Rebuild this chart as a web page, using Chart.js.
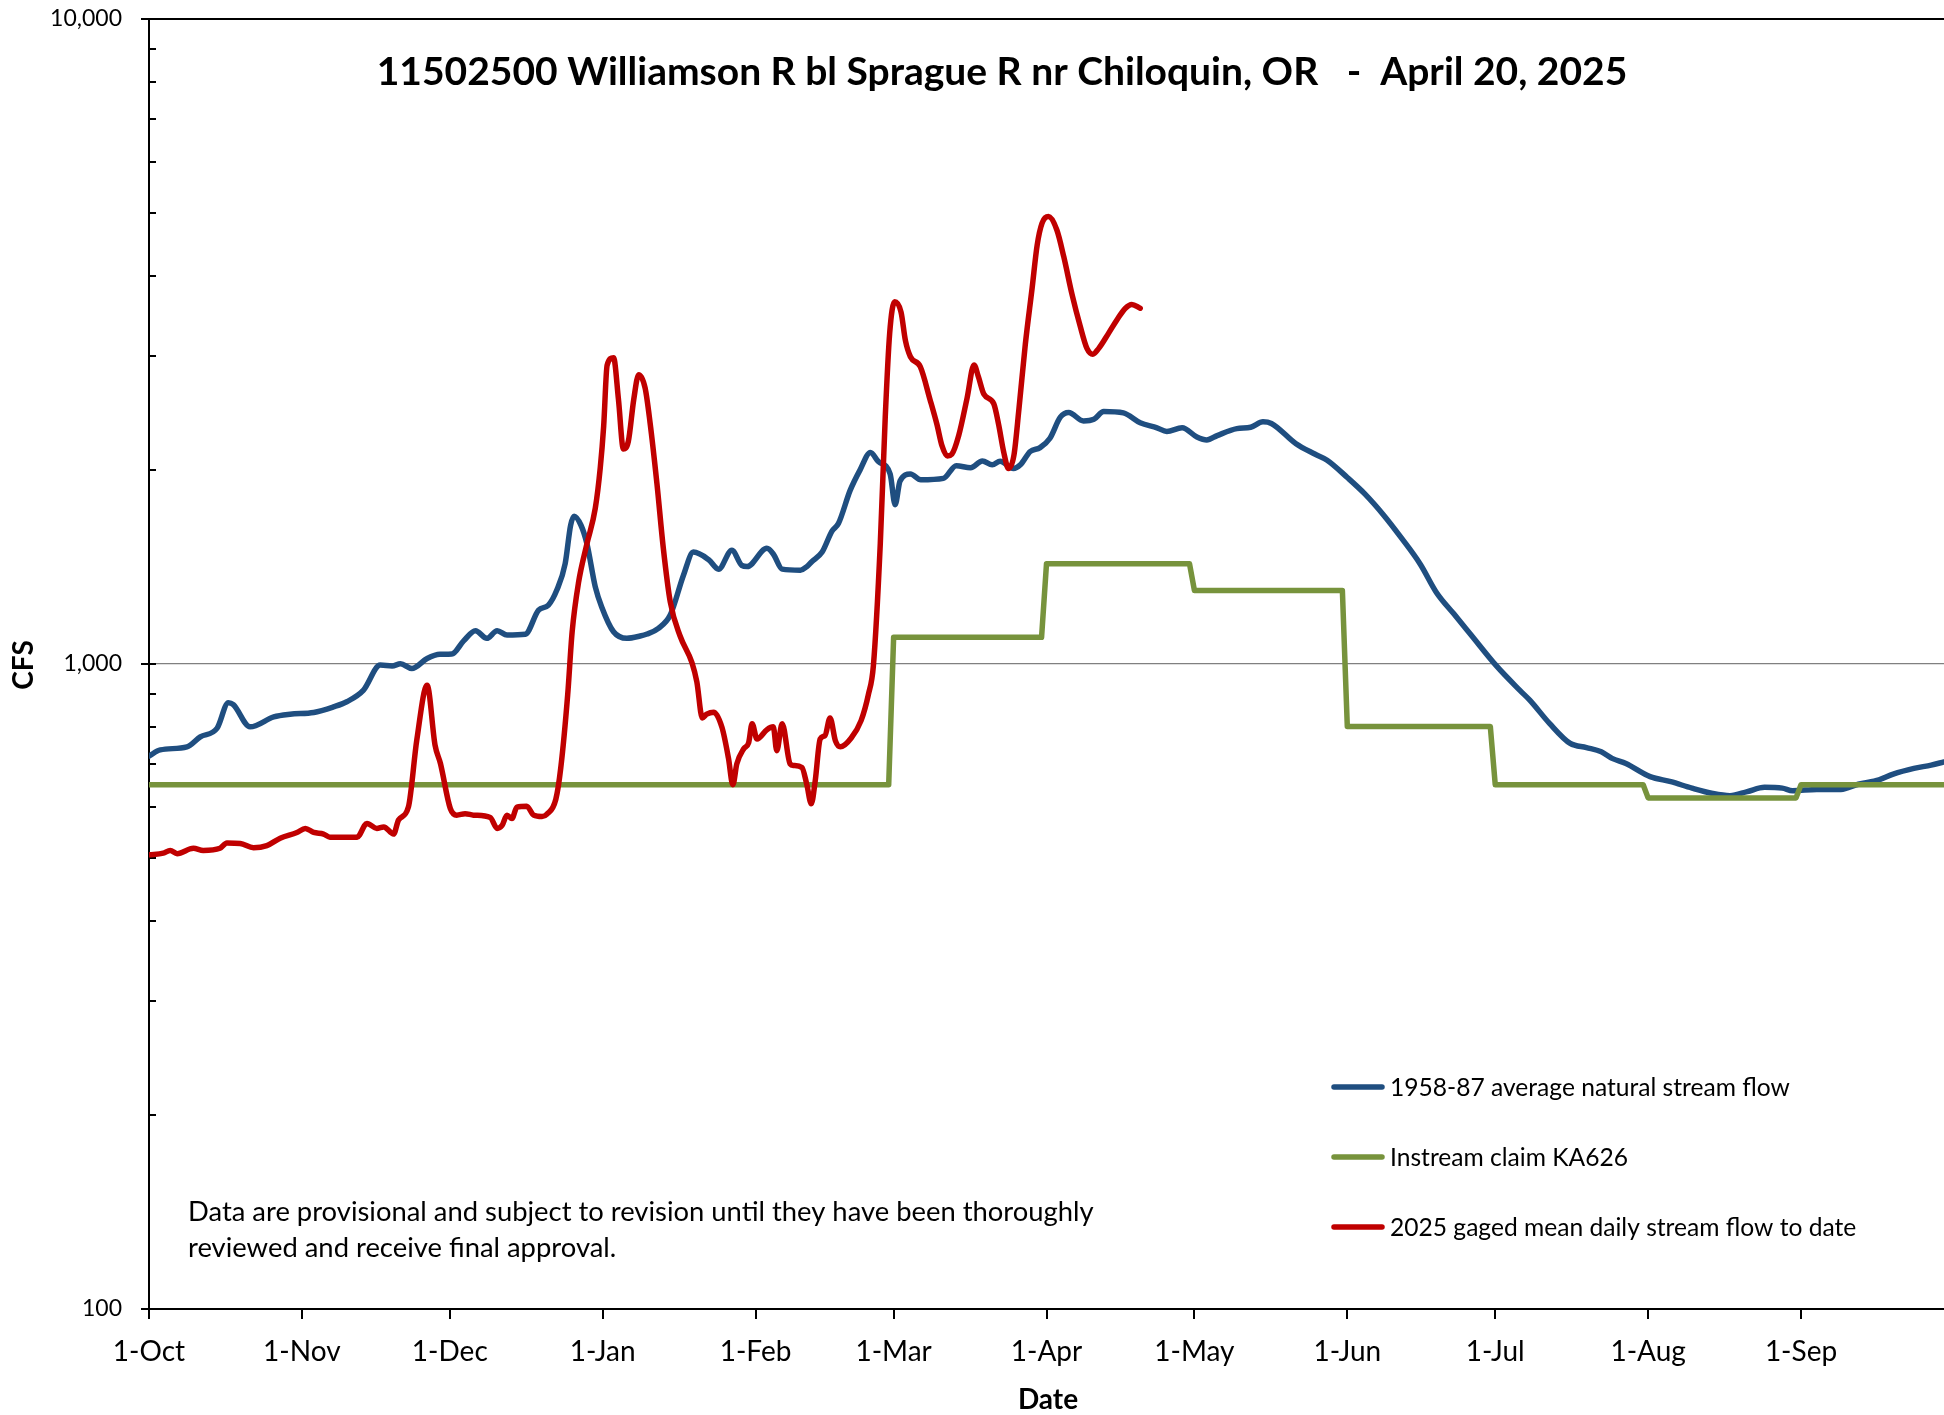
<!DOCTYPE html>
<html>
<head>
<meta charset="utf-8">
<title>11502500 Williamson R bl Sprague R nr Chiloquin, OR</title>
<script src="https://cdn.jsdelivr.net/npm/chart.js@4.4.1/dist/chart.umd.min.js"></script>
<style>
  html, body { margin: 0; padding: 0; background: #fff; }
  canvas { display: block; }
</style>
</head>
<body>
<canvas id="flowChart" width="1944" height="1415"></canvas>
<script>
// x axis is days counted from 1-Oct (day 0) to 30-Sep (day 364)
const monthStarts = [0, 31, 61, 92, 123, 151, 182, 212, 243, 273, 304, 335];
const monthLabels = ['1-Oct', '1-Nov', '1-Dec', '1-Jan', '1-Feb', '1-Mar', '1-Apr', '1-May', '1-Jun', '1-Jul', '1-Aug', '1-Sep'];

// 1958-87 average natural stream flow, cfs
const avgDays = [0, 2.3, 7.7, 10.4, 13.8, 16.1, 17.1, 20.5, 25.3, 28.6, 33.4, 37.4, 40.1, 43.5, 46.9, 49.3, 51, 53.3, 56.4, 59,
  61.4, 63.8, 66.2, 68.5, 70.6, 72.6, 76.3, 79, 81, 82.7, 84.4, 85.5, 86.2, 87.6, 88.8, 90.5, 91.8, 94.2, 96.9, 99.6,
  101, 103.3, 105.7, 108.4, 110.4, 113.5, 115.5, 118.2, 120.2, 121.3, 125.3, 126.6, 128.4, 132.1, 133.4, 134.4, 136.5, 138.5, 139.8, 142.2,
  144.2, 146.3, 147.9, 150.3, 151.3, 152.3, 154.4, 156.5, 161.1, 163.7, 166.6, 169, 171, 172.6, 175.3, 176.7, 178.7, 180.7, 182.7, 184.8,
  186.5, 189.5, 191.6, 193.6, 197.6, 201, 204.4, 206.4, 209.5, 212.5, 214.5, 216.6, 220.6, 223.4, 225.9, 227.6, 232.6, 236.4, 238.9, 243,
  246.5, 250.3, 254, 257.8, 261.1, 264.6, 267.9, 273.2, 278, 280, 284, 288.2, 291.5, 294.5, 296.7, 299.5, 304.4, 308.6, 312.9, 317.1,
  320.6, 324.1, 327.6, 331.2, 333.3, 338.2, 343.1, 346.6, 350.8, 353.7, 357.9, 361.4, 364];
const avgCfs = [720, 736, 744, 771, 795, 871, 865, 799, 828, 836, 841, 858, 874, 911, 996, 993, 1001, 984, 1020, 1035,
  1036, 1086, 1126, 1096, 1126, 1109, 1112, 1212, 1234, 1302, 1432, 1641, 1695, 1641, 1537, 1317, 1226, 1122, 1096, 1105,
  1113, 1136, 1191, 1374, 1491, 1451, 1403, 1501, 1422, 1416, 1511, 1481, 1403, 1398, 1416, 1441, 1491, 1607, 1651, 1860,
  2000, 2128, 2060, 1970, 1766, 1922, 1970, 1930, 1940, 2030, 2015, 2065, 2036, 2063, 2009, 2036, 2135, 2165, 2239, 2414,
  2454, 2381, 2395, 2464, 2451, 2366, 2324, 2293, 2324, 2249, 2225, 2260, 2317, 2328, 2374, 2360, 2195, 2116, 2070, 1946,
  1837, 1704, 1567, 1428, 1290, 1196, 1114, 994, 910, 879, 809, 753, 742, 731, 714, 701, 669, 657, 642, 630,
  625, 634, 644, 642, 636, 639, 639, 651, 661, 675, 689, 697, 705];

// instream claim KA626, one value per month Oct..Sep
const claimCfs = [650, 650, 650, 650, 650, 1100, 1430, 1300, 800, 650, 620, 650];

// 2025 gaged mean daily stream flow, through 20-Apr
const flowDays = [0, 2.9, 4.3, 5.7, 9, 11, 14.4, 15.8, 18.5, 21.2, 23.9, 26.6, 30, 31.7, 33.4, 35.4, 36.7, 42.2, 44.2, 46.2,
  47.6, 49.6, 50.6, 52.6, 54.3, 56.4, 58, 59.1, 61.1, 62.4, 64.1, 65.8, 69.2, 70.6, 71.6, 72.6, 73.6, 74.6, 76.6, 78,
  79.7, 80.7, 82.5, 83.5, 84.9, 85.8, 87.1, 88.8, 90.5, 91.5, 92.2, 92.9, 94.2, 95.2, 96.2, 97.2, 98.3, 99.3, 100.6, 101.6,
  103, 104.3, 105.7, 107.7, 110.1, 111.1, 112.2, 113.1, 114.5, 116.2, 117.5, 118.4, 119.2, 120.6, 121.6, 122.3, 123.3, 125.3, 126.6, 127.3,
  128.4, 130, 130.7, 132.4, 133.4, 134.3, 135.1, 136.1, 137.1, 138.1, 139.2, 140.2, 142.4, 144.4, 145.9, 146.9, 148.3, 149.3, 150.2, 151.2,
  152.5, 153.4, 154.4, 156.4, 158.4, 159.8, 160.8, 161.9, 162.8, 164.2, 165.9, 167.3, 168.2, 169.3, 171.3, 172.3, 173.3, 174.3, 175.4, 176.4,
  177.7, 179.1, 180.1, 181.1, 182.4, 184.1, 185.5, 187.2, 188.8, 190.2, 191.4, 192.6, 194.6, 196.3, 198, 199.3, 201];
const flowCfs = [506, 509, 514, 508, 518, 514, 518, 528, 527, 519, 523, 537, 548, 556, 548, 545, 539, 539, 566, 556,
  559, 545, 573, 600, 762, 927, 749, 701, 597, 583, 586, 583, 578, 556, 562, 583, 576, 600, 602, 583,
  580, 585, 617, 690, 895, 1120, 1337, 1535, 1744, 2012, 2337, 2906, 2985, 2571, 2154, 2214, 2571, 2809, 2679, 2370,
  1905, 1511, 1249, 1105, 1005, 938, 825, 836, 842, 797, 715, 650, 700, 739, 755, 808, 765, 791, 799, 734,
  808, 700, 696, 691, 650, 607, 659, 765, 775, 825, 760, 744, 768, 817, 898, 995, 1539, 2414, 3258, 3643,
  3512, 3170, 2995, 2890, 2567, 2349, 2180, 2102, 2115, 2261, 2585, 2909, 2786, 2620, 2533, 2349, 2135, 2009, 2108, 2481,
  3128, 3837, 4458, 4826, 4939, 4709, 4280, 3735, 3348, 3086, 3022, 3086, 3258, 3418, 3561, 3610, 3561];

const yMajor = [100, 1000, 10000];
const yMinor = [200, 300, 400, 500, 600, 700, 800, 900, 2000, 3000, 4000, 5000, 6000, 7000, 8000, 9000];

const titleText = '11502500 Williamson R bl Sprague R nr Chiloquin, OR   -  April 20, 2025';
const noteLines = ['Data are provisional and subject to revision until they have been thoroughly',
  'reviewed and receive final approval.'];

const FONT = 'Lato, "Open Sans", sans-serif';
Chart.defaults.font.family = FONT;
Chart.defaults.color = '#000';

const pts = (xs, ys) => xs.map((d, i) => ({ x: d, y: ys[i] }));

// claim holds each monthly value from first to last day of the month
const claimPts = [];
claimCfs.forEach((v, i) => {
  const end = i < 11 ? monthStarts[i + 1] - 1 : 364;
  claimPts.push({ x: monthStarts[i], y: v }, { x: end, y: v });
});

const frame = {
  id: 'frame',
  beforeDatasetsDraw(chart) {
    const { ctx, chartArea: a, scales: { x, y } } = chart;
    ctx.save();
    ctx.strokeStyle = '#000';
    ctx.lineWidth = 2;
    ctx.beginPath();
    ctx.moveTo(a.left - 8, a.top); ctx.lineTo(a.right, a.top);
    ctx.moveTo(a.left, a.top); ctx.lineTo(a.left, a.bottom + 10);
    ctx.moveTo(a.left - 8, a.bottom); ctx.lineTo(a.right, a.bottom);
    yMajor.forEach(v => {
      const py = Math.round(y.getPixelForValue(v));
      ctx.moveTo(a.left - 8, py); ctx.lineTo(a.left + 7, py);
    });
    yMinor.forEach(v => {
      const py = Math.round(y.getPixelForValue(v));
      ctx.moveTo(a.left, py); ctx.lineTo(a.left + 7, py);
    });
    monthStarts.forEach(d => {
      const px = Math.round(x.getPixelForValue(d));
      ctx.moveTo(px, a.bottom); ctx.lineTo(px, a.bottom + 10);
    });
    ctx.stroke();
    ctx.restore();
  },
  afterDraw(chart) {
    const { ctx } = chart;
    ctx.save();
    ctx.fillStyle = '#000';
    ctx.textBaseline = 'alphabetic';

    ctx.font = 'bold 39px ' + FONT;
    ctx.textAlign = 'center';
    ctx.fillText(titleText, 1002, 85);

    ctx.font = 'bold 28px ' + FONT;
    ctx.fillText('Date', 1048, 1409);
    ctx.save();
    ctx.translate(33, 665);
    ctx.rotate(-Math.PI / 2);
    ctx.fillText('CFS', 0, 0);
    ctx.restore();

    ctx.textAlign = 'left';
    ctx.font = '27.4px ' + FONT;
    noteLines.forEach((t, i) => ctx.fillText(t, 188, 1221 + i * 36));

    // legend: blue, green, red
    ctx.font = '24.6px ' + FONT;
    [0, 1, 2].forEach((di, i) => {
      const ds = chart.data.datasets[di];
      const ly = 1087 + i * 70;
      ctx.strokeStyle = ds.borderColor;
      ctx.lineWidth = 5.5;
      ctx.lineCap = 'round';
      ctx.beginPath();
      ctx.moveTo(1334, ly); ctx.lineTo(1382, ly);
      ctx.stroke();
      ctx.fillText(ds.label, 1390, ly + 9);
    });
    ctx.restore();
  }
};

new Chart(document.getElementById('flowChart'), {
  type: 'line',
  data: {
    datasets: [
      {
        label: '1958-87 average natural stream flow',
        data: pts(avgDays, avgCfs),
        borderColor: '#1f4e80',
        borderWidth: 5.5,
        cubicInterpolationMode: 'monotone',
        order: 2
      },
      {
        label: 'Instream claim KA626',
        data: claimPts,
        borderColor: '#77933c',
        borderWidth: 5.5,
        tension: 0,
        order: 1
      },
      {
        label: '2025 gaged mean daily stream flow to date',
        data: pts(flowDays, flowCfs),
        borderColor: '#c00000',
        borderWidth: 5.5,
        cubicInterpolationMode: 'monotone',
        order: 0
      }
    ]
  },
  options: {
    responsive: false,
    animation: false,
    layout: { padding: { top: 19, right: 0, bottom: 0, left: 0 } },
    elements: {
      point: { radius: 0 },
      line: { borderJoinStyle: 'round', borderCapStyle: 'round', fill: false }
    },
    plugins: {
      legend: { display: false },
      tooltip: { enabled: false },
      title: { display: false }
    },
    scales: {
      x: {
        type: 'linear',
        min: 0,
        max: 364,
        afterBuildTicks: s => { s.ticks = monthStarts.map(v => ({ value: v })); },
        afterFit: s => { s.height = 106; s.paddingLeft = 0; s.paddingRight = 0; },
        grid: { display: false, drawTicks: false },
        border: { display: false },
        ticks: {
          autoSkip: false,
          maxRotation: 0,
          padding: 26,
          font: { size: 28 },
          callback: v => monthLabels[monthStarts.indexOf(v)]
        }
      },
      y: {
        type: 'logarithmic',
        min: 100,
        max: 10000,
        afterBuildTicks: s => { s.ticks = yMajor.map(v => ({ value: v })); },
        afterFit: s => { s.width = 149; s.paddingTop = 0; s.paddingBottom = 0; },
        grid: {
          drawTicks: false,
          lineWidth: 1.3,
          color: c => (c.tick && c.tick.value === 1000 ? '#808080' : 'rgba(0,0,0,0)')
        },
        border: { display: false },
        ticks: {
          autoSkip: false,
          padding: 27,
          font: { size: 23 },
          callback: v => v.toLocaleString('en-US')
        }
      }
    }
  },
  plugins: [frame]
});
</script>
</body>
</html>
